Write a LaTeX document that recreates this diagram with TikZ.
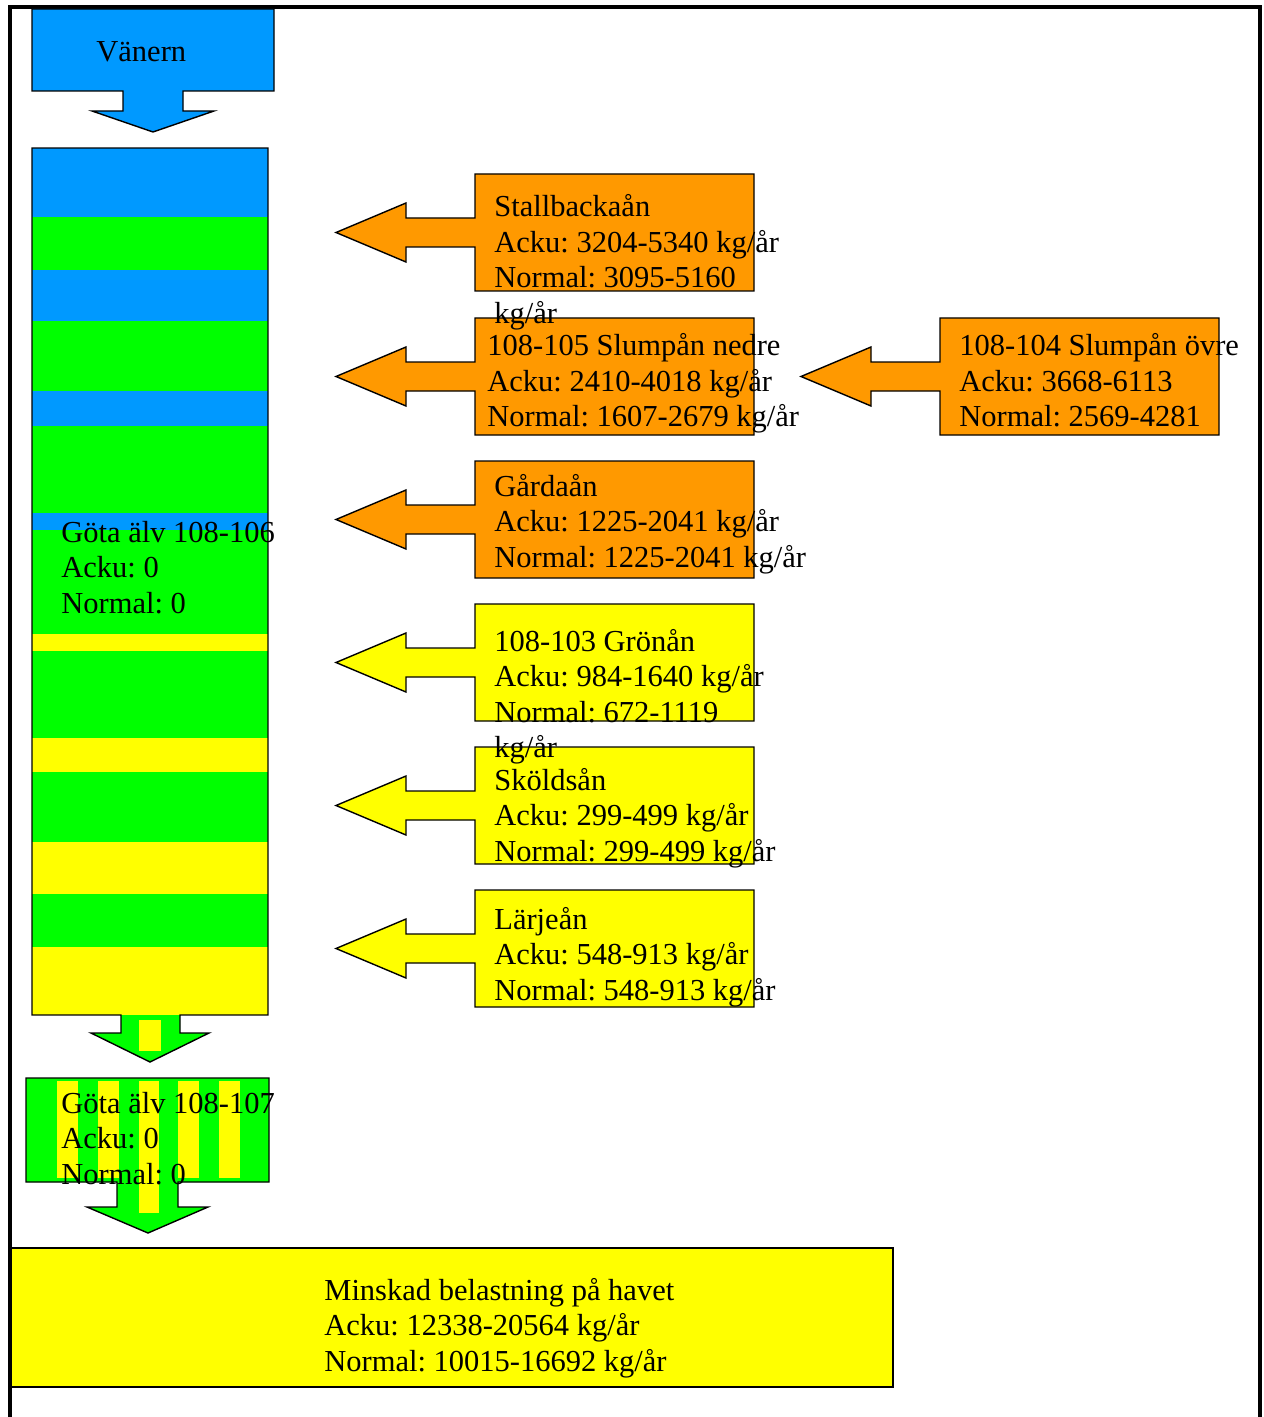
\documentclass[tikz,border=0pt]{standalone}
\usepackage{fontspec}
\setmainfont{Liberation Serif}
\frenchspacing
\definecolor{cblue}{HTML}{0099FF}
\definecolor{cgreen}{HTML}{00FF00}
\definecolor{cyellow}{HTML}{FFFF00}
\definecolor{corange}{HTML}{FF9900}
\newcommand\tl[1]{\vtop{\baselineskip=17.75pt\lineskiplimit=-\maxdimen\halign{##\hfil\cr#1\crcr}}}
\newcommand\sidearrow[6]{%
  \pgfmathsetmacro\cyy{(#3+#4)/2}%
  \pgfmathsetmacro\hbb{#5+70}%
  \filldraw[fill=#6, boxline] (#1,#3) -- (#2,#3) -- (#2,#4) -- (#1,#4) -- (#1,\cyy+14.5) -- (\hbb,\cyy+14.5) -- (\hbb,\cyy+29.5) -- (#5,\cyy) -- (\hbb,\cyy-29.5) -- (\hbb,\cyy-14.5) -- (#1,\cyy-14.5) -- cycle;}
\tikzset{
  boxline/.style={draw=black, line width=0.7pt, line join=miter},
  txt/.style={anchor=base west, inner sep=0pt, font=\fontsize{15.25pt}{17.75pt}\selectfont\frenchspacing, text=black}
}
\begin{document}
\begin{tikzpicture}[x=0.5pt, y=-0.5pt]
\useasboundingbox (0,0) rectangle (1263,1417);
\fill[white] (0,0) rectangle (1263,1417);
% frame
\draw[line width=2pt] (10,1417) -- (10,7) -- (1260,7) -- (1260,1417);

% Vänern
\filldraw[fill=cblue, boxline] (32,9) -- (274,9) -- (274,91) -- (183,91) -- (183,111) -- (214,111) -- (153,132) -- (92,111) -- (123,111) -- (123,91) -- (32,91) -- cycle;

% Göta älv 108-106 column
\fill[cgreen] (121,1014) -- (180,1014) -- (180,1033) -- (209,1033) -- (150,1062) -- (91,1033) -- (121,1033) -- cycle;
\fill[cyellow] (139,1020) rectangle (161,1051);
\fill[cblue] (32,148) rectangle (268,217);
\fill[cgreen] (32,217) rectangle (268,270);
\fill[cblue] (32,270) rectangle (268,321);
\fill[cgreen] (32,321) rectangle (268,391);
\fill[cblue] (32,391) rectangle (268,426);
\fill[cgreen] (32,426) rectangle (268,513);
\fill[cblue] (32,513) rectangle (268,530);
\fill[cgreen] (32,530) rectangle (268,634);
\fill[cyellow] (32,634) rectangle (268,651);
\fill[cgreen] (32,651) rectangle (268,738);
\fill[cyellow] (32,738) rectangle (268,772);
\fill[cgreen] (32,772) rectangle (268,842);
\fill[cyellow] (32,842) rectangle (268,894);
\fill[cgreen] (32,894) rectangle (268,947);
\fill[cyellow] (32,947) rectangle (268,1015);
\draw[boxline] (32,148) -- (268,148) -- (268,1015) -- (180,1015) -- (180,1033) -- (209,1033) -- (150,1062) -- (91,1033) -- (121,1033) -- (121,1015) -- (32,1015) -- cycle;

% Göta älv 108-107
\fill[cgreen] (26,1078) -- (269,1078) -- (269,1182) -- (178,1182) -- (178,1207) -- (208,1207) -- (148,1233) -- (87,1207) -- (117,1207) -- (117,1182) -- (26,1182) -- cycle;
\fill[cyellow] (57,1081) rectangle (78,1178);
\fill[cyellow] (98,1081) rectangle (119,1178);
\fill[cyellow] (139,1081) rectangle (159,1213);
\fill[cyellow] (178,1081) rectangle (199,1178);
\fill[cyellow] (219,1081) rectangle (240,1178);
\draw[boxline] (26,1078) -- (269,1078) -- (269,1182) -- (178,1182) -- (178,1207) -- (208,1207) -- (148,1233) -- (87,1207) -- (117,1207) -- (117,1182) -- (26,1182) -- cycle;

% Havet
\filldraw[fill=cyellow, boxline] (11,1248) rectangle (893,1387);

% tributaries
\sidearrow{475}{754}{174}{291}{336}{corange}
\sidearrow{475}{754}{318}{435}{336}{corange}
\sidearrow{940}{1219}{318}{435}{801}{corange}
\sidearrow{475}{754}{461}{578}{336}{corange}
\sidearrow{475}{754}{604}{721}{336}{cyellow}
\sidearrow{475}{754}{747}{864}{336}{cyellow}
\sidearrow{475}{754}{890}{1007}{336}{cyellow}

% texts (on top of all shapes)
\node[txt] (vanern) at (96,62) {Vänern};
\node[txt] (gota106) at (61,542) {\tl{Göta älv 108-106\cr Acku: 0\cr Normal: 0}};
\node[txt] (gota107) at (61,1113) {\tl{Göta älv 108-107\cr Acku: 0\cr Normal: 0}};
\node[txt] (havet) at (324,1300) {\tl{Minskad belastning på havet\cr Acku: 12338-20564 kg/år\cr Normal: 10015-16692 kg/år}};
\node[txt] (stall) at (494,217) {\tl{Stallbackaån\cr Acku: 3204-5340 kg/år\cr Normal: 3095-5160\cr kg/år}};
\node[txt] (nedre) at (487,356) {\tl{108-105 Slumpån nedre\cr Acku: 2410-4018 kg/år\cr Normal: 1607-2679 kg/år}};
\node[txt] (ovre) at (959,356) {\tl{108-104 Slumpån övre\cr Acku: 3668-6113\cr Normal: 2569-4281}};
\node[txt] (garda) at (494,496) {\tl{Gårdaån\cr Acku: 1225-2041 kg/år\cr Normal: 1225-2041 kg/år}};
\node[txt] (gronan) at (494,651) {\tl{108-103 Grönån\cr Acku: 984-1640 kg/år\cr Normal: 672-1119\cr kg/år}};
\node[txt] (skold) at (494,790) {\tl{Sköldsån\cr Acku: 299-499 kg/år\cr Normal: 299-499 kg/år}};
\node[txt] (larje) at (494,929) {\tl{Lärjeån\cr Acku: 548-913 kg/år\cr Normal: 548-913 kg/år}};
\end{tikzpicture}
\end{document}
